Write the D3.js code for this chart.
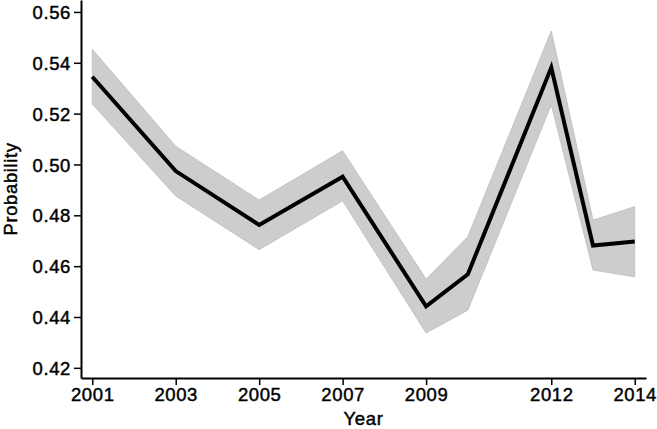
<!DOCTYPE html>
<html>
<head>
<meta charset="utf-8">
<script src="https://cdn.jsdelivr.net/npm/d3@7"></script>
<style>
  body { margin: 0; background: #fff; }
  svg text { font-family: "Liberation Sans", Arial, Helvetica, sans-serif; fill: #000; stroke: #000; stroke-width: 0.45px; }
</style>
</head>
<body>
<div id="chart"></div>
<script>
//values
var years = [2001, 2003, 2005, 2007, 2009, 2010, 2012, 2013, 2014];
var prob  = [0.5345, 0.4974, 0.4762, 0.4952, 0.4442, 0.4568, 0.5381, 0.4681, 0.4697];
var upper = [0.5453, 0.5072, 0.4860, 0.5054, 0.4549, 0.4716, 0.5525, 0.4781, 0.4834];
var lower = [0.5238, 0.4876, 0.4665, 0.4857, 0.4337, 0.4427, 0.5235, 0.4585, 0.4558];
var xTicks = [2001, 2003, 2005, 2007, 2009, 2012, 2014];
var yTicks = [0.42, 0.44, 0.46, 0.48, 0.50, 0.52, 0.54, 0.56];

var data = years.map(function(y, i) {
  return {year: y, p: prob[i], hi: upper[i], lo: lower[i]};
});

//dimensions
var W = 657, H = 429;
var margin = {top: 0, right: 11, bottom: 51, left: 81},
    width = W - margin.left - margin.right,
    height = H - margin.top - margin.bottom;

var svg = d3.select("#chart")
  .append("svg")
    .attr("width", W)
    .attr("height", H)
  .append("g")
    .attr("transform", "translate(" + margin.left + "," + margin.top + ")");

//scales
var x = d3.scaleLinear().domain([2000.73, 2014.27]).range([0, width]);
var y = d3.scaleLinear().domain([0.416, 0.5647]).range([height, 0]);

//confidence band
svg.append("path")
  .datum(data)
  .attr("fill", "#cdcdcd")
  .attr("stroke", "#c4c4c4")
  .attr("stroke-width", 1)
  .attr("d", d3.area()
    .x(function(d) { return x(d.year); })
    .y0(function(d) { return y(d.lo); })
    .y1(function(d) { return y(d.hi); }));

//main line
svg.append("path")
  .datum(data)
  .attr("fill", "none")
  .attr("stroke", "#000")
  .attr("stroke-width", 4)
  .attr("stroke-linejoin", "miter")
  .attr("d", d3.line()
    .x(function(d) { return x(d.year); })
    .y(function(d) { return y(d.p); }));

//axes
var xAxis = d3.axisBottom(x)
  .tickValues(xTicks)
  .tickFormat(d3.format("d"))
  .tickSize(7)
  .tickSizeOuter(0)
  .tickPadding(3);
var gx = svg.append("g")
  .attr("transform", "translate(0," + height + ")")
  .call(xAxis);

var yAxis = d3.axisLeft(y)
  .tickValues(yTicks)
  .tickFormat(d3.format(".2f"))
  .tickSize(7)
  .tickSizeOuter(0)
  .tickPadding(3);
var gy = svg.append("g").call(yAxis);

[gx, gy].forEach(function(g) {
  g.select(".domain").attr("stroke", "#000").attr("stroke-width", 2);
  g.selectAll(".tick line").attr("stroke", "#000").attr("stroke-width", 1.5);
  g.selectAll(".tick text")
    .style("font-size", "18.5px")
    .style("letter-spacing", "0.6px")
    .attr("fill", "#000");
});
gy.selectAll(".tick text").attr("dy", "0.36em");

//axis titles
svg.append("text")
  .attr("x", width / 2)
  .attr("y", height + 47)
  .style("text-anchor", "middle")
  .style("font-size", "18.5px")
  .style("letter-spacing", "0.6px")
  .text("Year");

svg.append("text")
  .attr("transform", "rotate(-90)")
  .attr("x", -height / 2)
  .attr("y", 17 - margin.left)
  .style("text-anchor", "middle")
  .style("font-size", "18.5px")
  .style("letter-spacing", "0.6px")
  .text("Probability");
</script>
</body>
</html>
